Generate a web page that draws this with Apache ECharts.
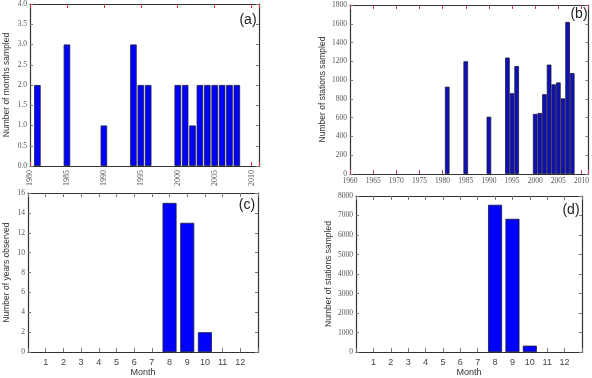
<!DOCTYPE html>
<html>
<head>
<meta charset="utf-8">
<script src="https://cdn.jsdelivr.net/npm/echarts@6/dist/echarts.min.js"></script>
<style>
  html, body { margin: 0; padding: 0; background: #fff; }
  #chart { width: 592px; height: 378px; }
</style>
</head>
<body>
<div id="chart"></div>
<script>

// panel (a) and (b): per year
let yearsSampled = [1981, 1985, 1990, 1994, 1995, 1996, 2000, 2001, 2002, 2003, 2004, 2005, 2006, 2007, 2008];
let monthsSampled = [2, 3, 1, 3, 2, 2, 2, 2, 1, 2, 2, 2, 2, 2, 2];
let stationsPerYear = [930, 1200, 610, 1240, 860, 1150, 640, 650, 850, 1165, 955, 975, 805, 1620, 1075];

// panel (c) and (d): per month
let months = [1, 2, 3, 4, 5, 6, 7, 8, 9, 10, 11, 12];
let yearsObserved = [0, 0, 0, 0, 0, 0, 0, 15, 13, 2, 0, 0];
let stationsPerMonth = [0, 0, 0, 0, 0, 0, 0, 7550, 6830, 330, 0, 0];

let panelLabels = ['(a)', '(b)', '(c)', '(d)'];

let serif = 'Liberation Serif';
let sans = 'Liberation Sans';

function pairs(xs, ys) {
    let out = [];
    for (let i = 0; i < xs.length; i++) {
        if (ys[i] > 0) out.push([xs[i], ys[i]]);
    }
    return out;
}

let grids = [
    { left: 30, top: 3, width: 229, height: 163 },
    { left: 350, top: 5, width: 239, height: 169 },
    { left: 28, top: 193, width: 230, height: 165 },
    { left: 356, top: 196, width: 226, height: 161 }
];

let xAxes = [];
let yAxes = [];

// bottom x axes
function bottomX(gi, min, max, interval, tickColor, labelOpt, name) {
    xAxes.push({
        type: 'value', gridIndex: gi, position: 'bottom', min: min, max: max, interval: interval,
        splitLine: { show: false },
        axisLine: { show: true, onZero: false, lineStyle: { color: '#333', width: 1.2 } },
        axisTick: { show: true, inside: true, length: 4, lineStyle: { color: tickColor, width: 1 } },
        axisLabel: labelOpt,
        name: name || '', nameLocation: 'middle', nameGap: 15,
        nameTextStyle: { fontFamily: sans, fontSize: 9, color: '#333' }
    });
}
function topX(gi, min, max, interval, tickColor) {
    xAxes.push({
        type: 'value', gridIndex: gi, position: 'top', min: min, max: max, interval: interval,
        splitLine: { show: false },
        axisLine: { show: true, onZero: false, lineStyle: { color: '#333', width: 1.2 } },
        axisTick: { show: true, inside: true, length: 4, lineStyle: { color: tickColor, width: 1 } },
        axisLabel: { show: false }
    });
}
function leftY(gi, max, interval, fmt, name, gap) {
    yAxes.push({
        type: 'value', gridIndex: gi, position: 'left', min: 0, max: max, interval: interval,
        splitLine: { show: false },
        axisLine: { show: true, onZero: false, lineStyle: { color: '#333', width: 1.2 } },
        axisTick: { show: true, inside: true, length: 3, lineStyle: { color: '#777' } },
        axisLabel: { fontFamily: serif, fontSize: 7.5, color: '#555', margin: 3, formatter: fmt },
        name: name, nameLocation: 'middle', nameRotate: 90, nameGap: gap,
        nameTextStyle: { fontFamily: sans, fontSize: 8.5, color: '#333' }
    });
}
function rightY(gi, max, interval) {
    yAxes.push({
        type: 'value', gridIndex: gi, position: 'right', min: 0, max: max, interval: interval,
        splitLine: { show: false },
        axisLine: { show: true, onZero: false, lineStyle: { color: '#333', width: 1.2 } },
        axisTick: { show: true, inside: true, length: 3, lineStyle: { color: '#777' } },
        axisLabel: { show: false }
    });
}

// (a)
bottomX(0, 1980, 2011, 5, '#e03040', {
    fontFamily: serif, fontSize: 8, color: '#555', rotate: 90, margin: 4,
    formatter: function (v) { return v % 5 === 0 && v <= 2010 ? String(v) : ''; }
});
topX(0, 1980, 2011, 5, '#e03040');
leftY(0, 4, 0.5, function (v) { return v.toFixed(1); }, 'Number of months sampled', 19);
rightY(0, 4, 0.5);

// (b)
bottomX(1, 1960, 2011.5, 5, '#c04050', {
    fontFamily: serif, fontSize: 7.5, color: '#555', margin: 3,
    formatter: function (v) { return v % 5 === 0 && v <= 2010 ? String(v) : ''; }
});
topX(1, 1960, 2011.5, 5, '#c04050');
leftY(1, 1800, 200, function (v) { return String(v); }, 'Number of stations sampled', 23);
rightY(1, 1800, 200);

// (c)
let monthFmt = function (v) { return v >= 1 && v <= 12 ? String(v) : ''; };
bottomX(2, 0, 13, 1, '#777', { fontFamily: sans, fontSize: 9, color: '#444', margin: 6, formatter: monthFmt }, 'Month');
topX(2, 0, 13, 1, '#777');
leftY(2, 16, 2, function (v) { return String(v); }, 'Number of years observed', 17);
rightY(2, 16, 2);

// (d)
bottomX(3, 0, 13, 1, '#777', { fontFamily: sans, fontSize: 9, color: '#444', margin: 6, formatter: monthFmt }, 'Month');
topX(3, 0, 13, 1, '#777');
leftY(3, 8000, 1000, function (v) { return String(v); }, 'Number of stations sampled', 23);
rightY(3, 8000, 1000);

function barSeries(gi, data, width, color) {
    return {
        type: 'bar', xAxisIndex: gi * 2, yAxisIndex: gi * 2, data: data,
        barWidth: width, barGap: '-100%',
        itemStyle: { color: color, borderColor: '#1a1a40', borderWidth: 0.8 },
        animation: false
    };
}

let series = [
    barSeries(0, pairs(yearsSampled, monthsSampled), 6.5, '#0000ff'),
    barSeries(1, pairs(yearsSampled, stationsPerYear), 4.6, '#1010b8'),
    barSeries(2, pairs(months, yearsObserved), 14, '#0000ff'),
    barSeries(3, pairs(months, stationsPerMonth), 14, '#0000ff')
];

let labelPos = [[248, 20], [579, 14], [247, 205], [571, 210]];
let graphics = [];
for (let i = 0; i < panelLabels.length; i++) {
    graphics.push({
        type: 'text', x: labelPos[i][0], y: labelPos[i][1],
        style: { text: panelLabels[i], fontFamily: sans, fontSize: 14, fill: '#222', align: 'center', verticalAlign: 'middle' }
    });
}

let myChart = echarts.init(document.getElementById('chart'), null, { renderer: 'canvas' });
myChart.setOption({
    animation: false,
    backgroundColor: '#fff',
    grid: grids,
    xAxis: xAxes,
    yAxis: yAxes,
    series: series,
    graphic: graphics
});
</script>
</body>
</html>
